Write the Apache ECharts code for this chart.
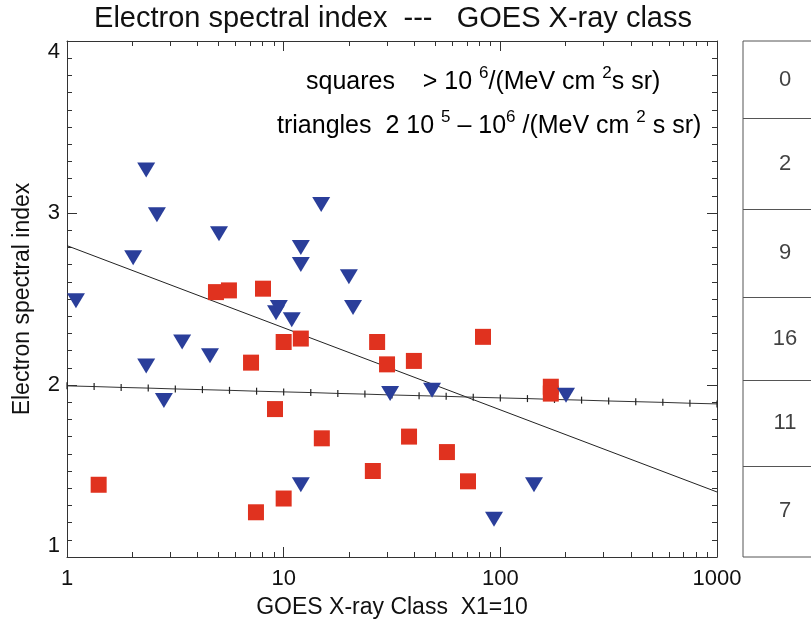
<!DOCTYPE html>
<html>
<head>
<meta charset="utf-8">
<script src="https://cdn.jsdelivr.net/npm/echarts@6/dist/echarts.min.js"></script>
<style>
  html, body { margin: 0; padding: 0; background: #fff; }
  #chart { width: 811px; height: 624px; }
</style>
</head>
<body>
<div id="chart"></div>
<script>
// Events with fluence > 1e6 /(MeV cm^2 s sr): GOES class (X1 = 10) and spectral index
const squareClass = [1.40, 4.87, 5.59, 8.03, 7.07, 10.0, 12.0, 9.12, 15.0, 10.0, 7.45,
                     27.0, 30.0, 39.9, 83.2, 37.9, 56.7, 25.8, 70.9, 171, 171];
const squareIndex = [1.42, 2.54, 2.55, 2.56, 2.13, 2.25, 2.27, 1.86, 1.69, 1.34, 1.26,
                     2.25, 2.12, 2.14, 2.28, 1.70, 1.61, 1.50, 1.44, 1.99, 1.95];

// Events with fluence 2e5 - 1e6 /(MeV cm^2 s sr)
const triangleClass = [1.10, 2.02, 2.32, 2.60, 2.32, 2.80, 3.40, 4.57, 5.03, 9.22, 9.50, 10.9,
                       12.0, 12.0, 14.9, 20.0, 20.9, 12.0, 31.0, 48.4, 93.5, 143, 201];
const triangleIndex = [2.49, 2.74, 3.25, 2.99, 2.11, 1.91, 2.25, 2.17, 2.88, 2.42, 2.45, 2.38,
                       2.80, 2.70, 3.05, 2.63, 2.45, 1.42, 1.95, 1.97, 1.22, 1.42, 1.94];

// Straight-line fit through all events
const fitClass = [1, 1000];
const fitIndex = [2.81, 1.378];

// Nearly flat reference line, marked at its sample points
const levelClass = [1, 1.334, 1.778, 2.371, 3.162, 4.217, 5.623, 7.499, 10, 13.34, 17.78, 23.71,
                    31.62, 42.17, 56.23, 74.99, 100, 133.4, 177.8, 237.1, 316.2, 421.7, 562.3, 749.9, 1000];
const levelIndex = [1.995, 1.991, 1.986, 1.982, 1.977, 1.973, 1.969, 1.964, 1.960, 1.956, 1.951, 1.947,
                    1.942, 1.938, 1.934, 1.929, 1.925, 1.921, 1.916, 1.912, 1.907, 1.903, 1.899, 1.894, 1.890];

// Number of events per spectral-index band (bottom band first)
const bandEdges = [1, 1.53, 2.03, 2.51, 3.02, 3.55, 4];
const bandCounts = [7, 11, 16, 9, 2, 0];

// Axis ticks
const xMajorTicks = [1, 10, 100, 1000];
const xMinorTicks = [2, 3, 4, 5, 6, 7, 8, 9, 20, 30, 40, 50, 60, 70, 80, 90,
                     200, 300, 400, 500, 600, 700, 800, 900];
const yMin = 1, yMax = 4, yStep = 1;

const FONT = '"Liberation Sans", Arial, Helvetica, sans-serif';
const AXIS_COLOR = '#333';

const chart = echarts.init(document.getElementById('chart'), null, { renderer: 'canvas' });

function xAxisFor(position, ticks, len, withLine) {
  return {
    type: 'log', logBase: 10, min: 1, max: 1000, gridIndex: 0, position: position,
    axisLine: { show: withLine, onZero: false, lineStyle: { color: AXIS_COLOR, width: 1 } },
    axisTick: { show: true, inside: true, length: len, customValues: ticks,
                lineStyle: { color: AXIS_COLOR, width: 1 } },
    axisLabel: { show: false },
    splitLine: { show: false }
  };
}

const bottomMajor = xAxisFor('bottom', xMajorTicks, 10, true);
bottomMajor.axisLabel = {
  show: true, customValues: xMajorTicks, margin: 11,
  formatter: v => String(Math.round(v)),
  fontFamily: FONT, fontSize: 22, color: '#111'
};
bottomMajor.name = 'GOES X-ray Class  X1=10';
bottomMajor.nameLocation = 'middle';
bottomMajor.nameGap = 39;
bottomMajor.nameTextStyle = { fontFamily: FONT, fontSize: 23, color: '#111' };

function yAxisFor(position, withLabels) {
  const ax = {
    type: 'value', min: yMin, max: yMax, interval: yStep, gridIndex: 0, position: position,
    axisLine: { show: true, lineStyle: { color: AXIS_COLOR, width: 1 } },
    axisTick: { show: true, inside: true, length: 10, lineStyle: { color: AXIS_COLOR } },
    minorTick: { show: true, splitNumber: 10, length: 5, lineStyle: { color: AXIS_COLOR } },
    axisLabel: { show: withLabels, margin: 7, fontFamily: FONT, fontSize: 22, color: '#111',
                 verticalAlignMinLabel: 'bottom', verticalAlignMaxLabel: 'top' },
    splitLine: { show: false }
  };
  if (withLabels) {
    ax.name = 'Electron spectral index';
    ax.nameLocation = 'middle';
    ax.nameGap = 33;
    ax.nameTextStyle = { fontFamily: FONT, fontSize: 23, color: '#111' };
  }
  return ax;
}

const pair = (xs, ys) => xs.map((x, i) => [x, ys[i]]);

const bandCenters = bandCounts.map((c, i) => [0.5, (bandEdges[i] + bandEdges[i + 1]) / 2, c]);
const bandLines = bandEdges.slice(1, -1).map(v => ({ yAxis: v }));

const richText = (color) => ({
  b: { fontFamily: FONT, fontSize: 25, lineHeight: 34, color: color },
  s: { fontFamily: FONT, fontSize: 17, lineHeight: 17, verticalAlign: 'top', color: color }
});

const option = {
  backgroundColor: '#fff',
  animation: false,
  grid: [
    { left: 67, top: 41, width: 650, height: 516, show: false,
      containLabel: false, outerBoundsMode: 'none' },
    { left: 743, top: 41, width: 84, height: 516, show: true,
      containLabel: false, outerBoundsMode: 'none',
      borderColor: '#555', borderWidth: 1, backgroundColor: 'transparent' }
  ],
  xAxis: [
    bottomMajor,
    xAxisFor('bottom', xMinorTicks, 5, false),
    xAxisFor('top', xMajorTicks, 10, true),
    xAxisFor('top', xMinorTicks, 5, false),
    { type: 'value', gridIndex: 1, min: 0, max: 1, show: false }
  ],
  yAxis: [
    yAxisFor('left', true),
    yAxisFor('right', false),
    { type: 'value', gridIndex: 1, min: yMin, max: yMax, show: false }
  ],
  graphic: [
    { type: 'text', x: 393, y: 19,
      style: { text: 'Electron spectral index  ---   GOES X-ray class',
               font: '29px ' + FONT, fill: '#111', align: 'center', verticalAlign: 'middle' } },
    { type: 'text', x: 306, y: 82,
      style: {
        text: '{b|squares    > 10 }{s|6}{b|/(MeV cm }{s|2}{b|s sr)}',
        verticalAlign: 'middle', align: 'left', rich: richText('#222')
      } },
    { type: 'text', x: 277, y: 126,
      style: {
        text: '{b|triangles  2 10 }{s|5}{b| – 10}{s|6}{b| /(MeV cm }{s|2}{b| s sr)}',
        verticalAlign: 'middle', align: 'left', rich: richText('#000')
      } }
  ],
  series: [
    {
      name: 'fit', type: 'line', xAxisIndex: 0, yAxisIndex: 0,
      data: pair(fitClass, fitIndex), showSymbol: false, symbol: 'none',
      lineStyle: { color: '#222', width: 1 }, silent: true, z: 2
    },
    {
      name: 'level', type: 'line', xAxisIndex: 0, yAxisIndex: 0,
      data: pair(levelClass, levelIndex), symbol: 'rect', symbolSize: [1.2, 7], showSymbol: true,
      itemStyle: { color: '#222' }, lineStyle: { color: '#333', width: 1 }, silent: true, z: 2
    },
    {
      name: 'squares', type: 'scatter', xAxisIndex: 0, yAxisIndex: 0,
      data: pair(squareClass, squareIndex), symbol: 'rect', symbolSize: 16,
      itemStyle: { color: '#e0321f', opacity: 1 }, z: 3
    },
    {
      name: 'triangles', type: 'scatter', xAxisIndex: 0, yAxisIndex: 0,
      data: pair(triangleClass, triangleIndex), symbol: 'triangle', symbolSize: [18, 15],
      symbolRotate: 180, itemStyle: { color: '#2a3e9a', opacity: 1 }, z: 4
    },
    {
      name: 'bands', type: 'scatter', xAxisIndex: 4, yAxisIndex: 2,
      data: bandCenters, symbolSize: 1, itemStyle: { color: 'transparent' },
      label: { show: true, position: 'inside', formatter: p => String(p.value[2]),
               fontFamily: FONT, fontSize: 22, color: '#111' },
      markLine: { silent: true, symbol: 'none', label: { show: false },
                  lineStyle: { color: '#555', width: 1, type: 'solid' }, data: bandLines },
      silent: true
    }
  ]
};

chart.setOption(option);
</script>
</body>
</html>
